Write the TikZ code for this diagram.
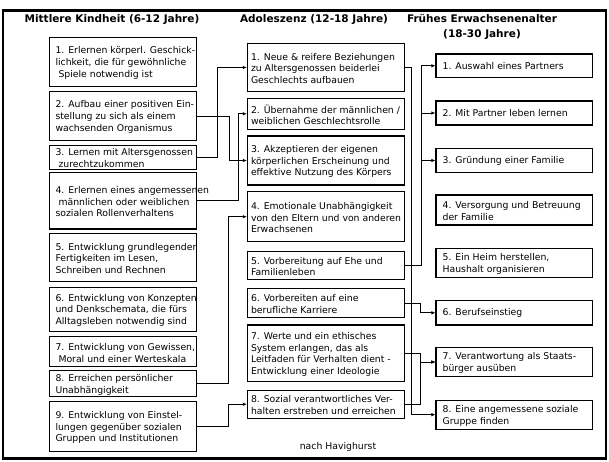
\documentclass[tikz,border=0pt]{standalone}
\usepackage{fontspec}
\setmainfont{DejaVu Sans}
\usetikzlibrary{arrows.meta}
\begin{document}
\begin{tikzpicture}[x=1pt,y=-1pt,
  box/.style={draw=black, line width=1.1pt, fill=white, inner sep=0pt},
  lbl/.style={anchor=west, inner sep=0pt, align=left, font=\fontsize{9.3}{11.7}\selectfont},
  head/.style={font=\fontsize{10.5}{14.5}\selectfont\bfseries, inner sep=0pt, align=center},
  conn/.style={line width=0.7pt, -{Latex[length=4pt,width=3.5pt]}},
  frame/.style={line width=2.5pt}]
\useasboundingbox (0,0) rectangle (609,461);
\draw[frame] (3.2,10.5) rectangle (605.8,458.5);

% headers
\node[head] (h1) at (112,19.5) {Mittlere Kindheit (6-12 Jahre)};
\node[head] (h2) at (314,19.5) {Adoleszenz (12-18 Jahre)};
\node[head] (h3) at (482,27) {Frühes Erwachsenenalter\\(18-30 Jahre)};

% left column
\def\lw{146.7}
\node[box, minimum width=\lw, minimum height=49.4] (l1) at (122.7,62) {};
\node[box, minimum width=\lw, minimum height=48.3] (l2) at (122.7,115.9) {};
\node[box, minimum width=\lw, minimum height=23.6] (l3) at (122.7,157.5) {};
\node[box, minimum width=\lw, minimum height=56.6] (l4) at (122.7,200.7) {};
\node[box, minimum width=\lw, minimum height=48.4] (l5) at (122.7,257.5) {};
\node[box, minimum width=\lw, minimum height=43.7] (l6) at (122.7,309.2) {};
\node[box, minimum width=\lw, minimum height=30] (l7) at (122.7,351.7) {};
\node[box, minimum width=\lw, minimum height=26] (l8) at (122.7,383.7) {};
\node[box, minimum width=\lw, minimum height=50] (l9) at (122.7,426.7) {};

\node[lbl] (t-l1) at ([xshift=6.5pt,yshift=-1pt]l1.west) {1. Erlernen körperl. Geschick-\\lichkeit, die für gewöhnliche\\\hspace*{3pt}Spiele notwendig ist};
\node[lbl] (t-l2) at ([xshift=6.5pt,yshift=-1pt]l2.west) {2. Aufbau einer positiven Ein-\\stellung zu sich als einem\\wachsenden Organismus};
\node[lbl] (t-l3) at ([xshift=6.5pt,yshift=-0.5pt]l3.west) {3. Lernen mit Altersgenossen\\\hspace*{3pt}zurechtzukommen};
\node[lbl] (t-l4) at ([xshift=6.5pt,yshift=-1pt]l4.west) {4. Erlernen eines angemessenen\\\hspace*{3pt}männlichen oder weiblichen\\sozialen Rollenverhaltens};
\node[lbl] (t-l5) at ([xshift=6.5pt,yshift=-1pt]l5.west) {5. Entwicklung grundlegender\\Fertigkeiten im Lesen,\\Schreiben und Rechnen};
\node[lbl] (t-l6) at ([xshift=6.5pt,yshift=-1pt]l6.west) {6. Entwicklung von Konzepten\\und Denkschemata, die fürs\\Alltagsleben notwendig sind};
\node[lbl] (t-l7) at ([xshift=6.5pt,yshift=-1pt]l7.west) {7. Entwicklung von Gewissen,\\\hspace*{3pt}Moral und einer Werteskala};
\node[lbl] (t-l8) at ([xshift=6.5pt,yshift=-1pt]l8.west) {8. Erreichen persönlicher\\Unabhängigkeit};
\node[lbl] (t-l9) at ([xshift=6.5pt,yshift=-1pt]l9.west) {9. Entwicklung von Einstel-\\lungen gegenüber sozialen\\Gruppen und Institutionen};

% middle column
\def\mw{156.7}
\node[box, minimum width=\mw, minimum height=48.4] (m1) at (325.7,67.5) {};
\node[box, minimum width=\mw, minimum height=31] (m2) at (325.7,113.8) {};
\node[box, minimum width=\mw, minimum height=49] (m3) at (325.7,160.5) {};
\node[box, minimum width=\mw, minimum height=50] (m4) at (325.7,216.7) {};
\node[box, minimum width=\mw, minimum height=27.6] (m5) at (325.7,265.5) {};
\node[box, minimum width=\mw, minimum height=29.4] (m6) at (325.7,303) {};
\node[box, minimum width=\mw, minimum height=56.7] (m7) at (325.7,353.3) {};
\node[box, minimum width=\mw, minimum height=28.3] (m8) at (325.7,404.2) {};

\node[lbl] (t-m1) at ([xshift=4pt,yshift=-1pt]m1.west) {1. Neue \& reifere Beziehungen\\zu Altersgenossen beiderlei\\Geschlechts aufbauen};
\node[lbl] (t-m2) at ([xshift=4pt,yshift=-1pt]m2.west) {2. Übernahme der männlichen /\\weiblichen Geschlechtsrolle};
\node[lbl] (t-m3) at ([xshift=4pt,yshift=-1pt]m3.west) {3. Akzeptieren der eigenen\\körperlichen Erscheinung und\\effektive Nutzung des Körpers};
\node[lbl] (t-m4) at ([xshift=4pt,yshift=-1pt]m4.west) {4. Emotionale Unabhängigkeit\\von den Eltern und von anderen\\Erwachsenen};
\node[lbl] (t-m5) at ([xshift=4pt,yshift=-1pt]m5.west) {5. Vorbereitung auf Ehe und\\Familienleben};
\node[lbl] (t-m6) at ([xshift=4pt,yshift=-1pt]m6.west) {6. Vorbereiten auf eine\\berufliche Karriere};
\node[lbl] (t-m7) at ([xshift=4pt,yshift=-1pt]m7.west) {7. Werte und ein ethisches\\System erlangen, das als\\Leitfaden für Verhalten dient -\\Entwicklung einer Ideologie};
\node[lbl] (t-m8) at ([xshift=4pt,yshift=-1pt]m8.west) {8. Sozial verantwortliches Ver-\\halten erstreben und erreichen};

% right column
\node[box, minimum width=\mw, minimum height=23.7] (r1) at (514.3,65.8) {};
\node[box, minimum width=\mw, minimum height=24] (r2) at (514.3,113) {};
\node[box, minimum width=\mw, minimum height=24.4] (r3) at (514.3,160.5) {};
\node[box, minimum width=\mw, minimum height=30] (r4) at (514.3,210) {};
\node[box, minimum width=\mw, minimum height=29.4] (r5) at (514.3,263) {};
\node[box, minimum width=\mw, minimum height=24.3] (r6) at (514.3,312.8) {};
\node[box, minimum width=\mw, minimum height=29.4] (r7) at (514.3,362) {};
\node[box, minimum width=\mw, minimum height=29.3] (r8) at (514.3,414.7) {};

\node[lbl] (t-r1) at ([xshift=7pt,yshift=-0.5pt]r1.west) {1. Auswahl eines Partners};
\node[lbl] (t-r2) at ([xshift=7pt,yshift=-0.5pt]r2.west) {2. Mit Partner leben lernen};
\node[lbl] (t-r3) at ([xshift=7pt,yshift=-0.5pt]r3.west) {3. Gründung einer Familie};
\node[lbl] (t-r4) at ([xshift=7pt,yshift=-1pt]r4.west) {4. Versorgung und Betreuung\\der Familie};
\node[lbl] (t-r5) at ([xshift=7pt,yshift=-1pt]r5.west) {5. Ein Heim herstellen,\\Haushalt organisieren};
\node[lbl] (t-r6) at ([xshift=7pt,yshift=-0.5pt]r6.west) {6. Berufseinstieg};
\node[lbl] (t-r7) at ([xshift=7pt,yshift=-1pt]r7.west) {7. Verantwortung als Staats-\\bürger ausüben};
\node[lbl] (t-r8) at ([xshift=7pt,yshift=-1pt]r8.west) {8. Eine angemessene soziale\\Gruppe finden};

\node[lbl, anchor=center] (src) at (338,446.7) {nach Havighurst};

% connectors left -> middle
\draw[conn] (l3.east) -- ++(21,0) |- (m1.west);
\draw[conn] (l2.east) -- ++(33,0) |- (m3.west);
\draw[conn] (l4.east) -- ++(42,0) |- (m2.west);
\draw[conn] (l8.east) -- ++(32,0) |- (m4.west);
\draw[conn] (l9.east) -- ++(32,0) |- (m8.west);

% connectors middle -> right
\draw[conn] (m1.east) -- ++(7,0) |- (r8.west);
\draw[conn] (m5.east) -- ++(17,0) |- (r1.west);
\draw[conn] (m5.east) -- ++(17,0) |- (r2.west);
\draw[conn] (m5.east) -- ++(17,0) |- (r3.west);
\draw[conn] (m6.east) -- ++(16,0) |- (r6.west);
\draw[conn] (m7.east) -- ++(16,0) |- (r7.west);
\draw[conn] (m8.east) -- ++(16,0) |- (r7.west);
\end{tikzpicture}
\end{document}
